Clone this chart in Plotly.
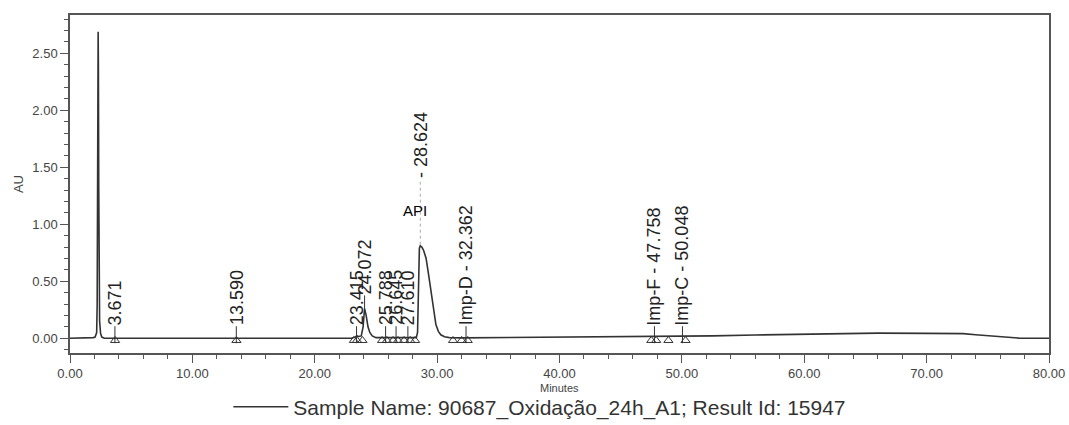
import plotly.graph_objects as go

# Chromatogram trace (retention time in minutes, absorbance in AU)
time_min = [0.0, 1.5, 1.9, 2.05, 2.12, 2.18, 2.22, 2.25, 2.28, 2.30, 2.32, 2.35, 2.38,
            2.42, 2.5, 2.6, 2.8, 3.2, 3.6, 3.8, 4.5, 9.0, 13.4, 13.8, 20.0, 23.0,
            23.3, 23.45, 23.6, 23.8, 23.95, 24.07, 24.2, 24.35, 24.5, 24.7, 25.0,
            25.5, 25.8, 26.2, 26.65, 27.0, 27.6, 28.0, 28.3, 28.4, 28.45, 28.5,
            28.55, 28.62, 28.75, 28.9, 29.1, 29.3, 29.5, 29.7, 29.9, 30.1, 30.3,
            30.6, 31.0, 32.0, 35.0, 40.0, 45.0, 48.0, 50.0, 52.5, 56.0, 60.5, 63.0,
            66.0, 70.0, 73.0, 74.0, 75.7, 77.6, 80.0]
absorbance = [0.0, 0.0, 0.005, 0.01, 0.03, 0.05, 0.3, 1.4, 2.55, 2.69, 2.4, 1.3, 0.5,
              0.15, 0.04, 0.01, 0.0, -0.003, 0.0, 0.0, 0.0, 0.0, 0.0, 0.0, 0.0, 0.0,
              0.01, 0.02, 0.015, 0.02, 0.1, 0.26, 0.2, 0.1, 0.05, 0.02, 0.005,
              0.005, 0.01, 0.005, 0.01, 0.005, 0.008, 0.005, 0.005, 0.05, 0.4, 0.7,
              0.79, 0.81, 0.80, 0.77, 0.70, 0.56, 0.40, 0.24, 0.12, 0.06, 0.03,
              0.012, 0.005, 0.003, 0.005, 0.008, 0.01, 0.012, 0.014, 0.02, 0.028, 0.036, 0.042,
              0.044, 0.042, 0.04, 0.03, 0.014, 0.0, 0.0]

# Integration event markers along the baseline
event_times = [3.68, 13.6, 23.2, 23.45, 23.9, 25.5, 25.9, 26.4, 26.8, 27.3, 27.8, 28.2,
               31.3, 32.0, 32.5, 47.5, 47.9, 48.9, 50.3]
event_level = -0.02

# Peak labels (rotated) and the signal level each label rises from
peak_labels = ["3.671", "13.590", "23.415", "24.072", "25.788", "26.645", "27.610",
               "Imp-D - 32.362", "Imp-F - 47.758", "Imp-C - 50.048"]
peak_times = [3.671, 13.590, 23.415, 24.072, 25.788, 26.645, 27.610, 32.362, 47.758, 50.048]
peak_levels = [0.0, 0.0, 0.0, 0.27, 0.0, 0.0, 0.0, 0.0, 0.0, 0.0]

# Main component
api_name = "API"
api_time = 28.624
api_label = "- 28.624"
api_apex = 0.82
api_label_level = 1.39
api_name_pos = (28.16, 1.12)

x_ticks = [0, 10, 20, 30, 40, 50, 60, 70, 80]
y_ticks = [0.0, 0.5, 1.0, 1.5, 2.0, 2.5]

legend_text = "Sample Name: 90687_Oxidação_24h_A1; Result Id: 15947"

FONT = "Liberation Sans, Arial, sans-serif"
INK = "#333333"

fig = go.Figure()

fig.add_trace(go.Scatter(
    x=time_min, y=absorbance, mode="lines", name=legend_text,
    line=dict(color=INK, width=1.6), hoverinfo="skip",
))

fig.add_trace(go.Scatter(
    x=event_times, y=[event_level] * len(event_times), mode="markers",
    marker=dict(symbol="triangle-up-open", size=8, color=INK, line=dict(width=1, color=INK)),
    showlegend=False, hoverinfo="skip",
))

shapes = []
annotations = []
for label, t, lvl in zip(peak_labels, peak_times, peak_levels):
    shapes.append(dict(
        type="line", xref="x", yref="y", x0=t, x1=t,
        ysizemode="pixel", yanchor=lvl, y0=-5, y1=12,
        line=dict(color=INK, width=1),
    ))
    annotations.append(dict(
        x=t, y=lvl, xref="x", yref="y", text=label, showarrow=False,
        textangle=-90, xanchor="center", yanchor="bottom", yshift=11,
        font=dict(family=FONT, size=18, color="#222222"),
    ))

# API: dotted leader from the apex up to its retention-time label
shapes.append(dict(
    type="line", xref="x", yref="y", x0=api_time, x1=api_time,
    y0=api_apex, y1=api_label_level,
    line=dict(color="#aaaaaa", width=1, dash="dot"),
))
annotations.append(dict(
    x=api_time, y=api_label_level, xref="x", yref="y", text=api_label,
    showarrow=False, textangle=-90, xanchor="center", yanchor="bottom",
    font=dict(family=FONT, size=18, color="#222222"),
))
annotations.append(dict(
    x=api_name_pos[0], y=api_name_pos[1], xref="x", yref="y", text=api_name,
    showarrow=False, xanchor="center", yanchor="middle",
    font=dict(family=FONT, size=15, color="#000000"),
))

# Axis titles
annotations.append(dict(
    x=0.5, y=-0.104, xref="paper", yref="paper", text="Minutes", showarrow=False,
    xanchor="center", yanchor="middle",
    font=dict(family=FONT, size=11, color="#444444"),
))
annotations.append(dict(
    x=-0.053, y=0.5, xref="paper", yref="paper", text="AU", showarrow=False,
    textangle=-90, xanchor="center", yanchor="middle",
    font=dict(family=FONT, size=13, color="#444444"),
))

axis_common = dict(
    showline=True, linecolor="#555555", linewidth=1.5, mirror=True,
    showgrid=False, zeroline=False, automargin=False,
    ticks="outside", ticklen=8, tickcolor="#555555", tickwidth=1,
    tickfont=dict(family=FONT, size=13, color="#444444"),
)

fig.update_layout(
    width=1069, height=425,
    margin=dict(l=70, r=20, t=15, b=72),
    paper_bgcolor="white", plot_bgcolor="white",
    xaxis=dict(
        range=[0, 80], tickvals=x_ticks, tickformat=".2f",
        minor=dict(dtick=2, ticks="outside", ticklen=4, tickcolor="#555555"),
        **axis_common,
    ),
    yaxis=dict(
        range=[-0.13, 2.836], tickvals=y_ticks, tickformat=".2f",
        minor=dict(dtick=0.1, ticks="outside", ticklen=4, tickcolor="#555555"),
        **axis_common,
    ),
    showlegend=True,
    legend=dict(
        orientation="h", xref="container", yref="container",
        x=0.505, xanchor="center", y=0.042, yanchor="middle",
        font=dict(family=FONT, size=21, color=INK), itemwidth=55,
        bgcolor="rgba(0,0,0,0)",
    ),
    shapes=shapes, annotations=annotations,
)

fig.write_html("out.html")
